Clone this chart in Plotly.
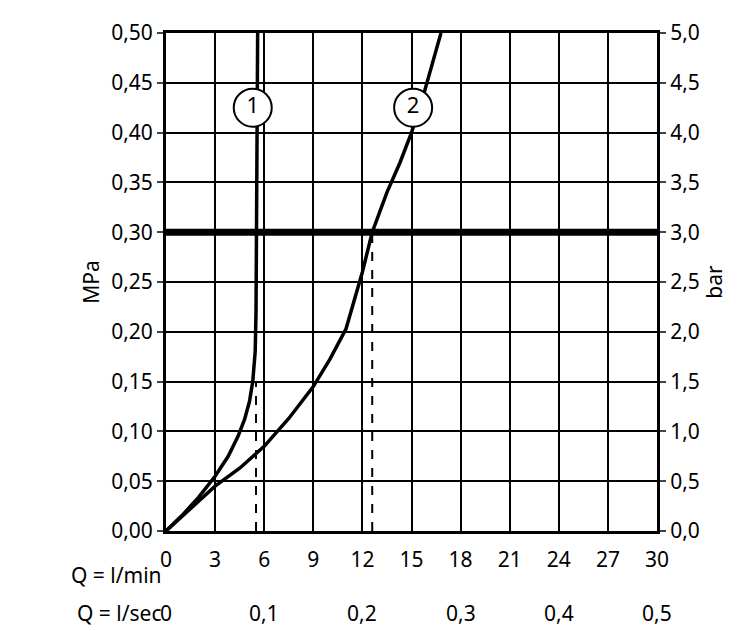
import plotly.graph_objects as go

# flow rate in l/min, pressure in MPa
curve1_q = [0, 1.0, 2.0, 3.0, 3.8, 4.4, 4.8, 5.1, 5.3, 5.4, 5.45, 5.5, 5.52, 5.55, 5.6]
curve1_p = [0, 0.016, 0.034, 0.055, 0.075, 0.095, 0.112, 0.13, 0.15, 0.165, 0.18, 0.22, 0.30, 0.40, 0.50]
curve2_q = [0, 1.5, 3.0, 4.5, 6.0, 7.5, 9.0, 10.0, 11.0, 12.0, 12.6, 13.5, 14.3, 15.0, 15.6, 16.2, 16.8]
curve2_p = [0, 0.022, 0.045, 0.063, 0.085, 0.113, 0.145, 0.172, 0.203, 0.26, 0.30, 0.34, 0.37, 0.40, 0.43, 0.465, 0.50]
dash_q = [5.5, 12.6]
dash_p = [0.15, 0.30]
labels = ["1", "2"]
label_q = [5.3, 15.1]
label_p = [0.425, 0.425]
lmin_ticks = [0, 3, 6, 9, 12, 15, 18, 21, 24, 27, 30]
lsec_pos = [0, 6, 12, 18, 24, 30]
lsec_text = ["0", "0,1", "0,2", "0,3", "0,4", "0,5"]
mpa_ticks = [i * 0.05 for i in range(11)]

font = "Noto Sans"
tf = dict(family=font, size=21, color="black")
fig = go.Figure()

for q, p in zip(dash_q, dash_p):
    fig.add_trace(go.Scatter(x=[q, q], y=[0, p], mode="lines",
                             line=dict(color="black", width=2, dash="dash"), showlegend=False))

fig.add_trace(go.Scatter(x=[0, 30], y=[0.30, 0.30], mode="lines",
                         line=dict(color="black", width=7), showlegend=False))
fig.add_trace(go.Scatter(x=curve1_q, y=curve1_p, mode="lines", line=dict(color="black", width=3.5), showlegend=False))
fig.add_trace(go.Scatter(x=curve2_q, y=curve2_p, mode="lines", line=dict(color="black", width=3.5), showlegend=False))
fig.add_trace(go.Scatter(x=label_q, y=label_p, mode="markers+text", text=labels,
                         marker=dict(size=38, color="white", line=dict(color="black", width=2)),
                         textfont=dict(family=font, size=22, color="black"), showlegend=False))
# invisible trace for the right axis
fig.add_trace(go.Scatter(x=[0], y=[0], yaxis="y2", mode="markers", marker=dict(opacity=0), showlegend=False, hoverinfo="skip"))

for q, t in zip(lsec_pos, lsec_text):
    fig.add_annotation(x=q, y=0, xref="x", yref="paper", yshift=-82, yanchor="middle", text=t,
                       showarrow=False, font=tf)
fig.add_annotation(x=-0.005, y=0, xref="paper", yref="paper", yshift=-44, xanchor="right", yanchor="middle",
                   text="Q = l/min", showarrow=False, font=tf)
fig.add_annotation(x=-0.005, y=0, xref="paper", yref="paper", yshift=-82, xanchor="right", yanchor="middle",
                   text="Q = l/sec", showarrow=False, font=tf)

fig.update_layout(
    width=750, height=631,
    margin=dict(l=158, r=101, t=25, b=108, autoexpand=False),
    plot_bgcolor="white", paper_bgcolor="white",
    font=tf,
    xaxis=dict(range=[0, 30], tickvals=lmin_ticks, ticktext=[str(v) for v in lmin_ticks], tickfont=tf,
               showgrid=True, gridcolor="black", gridwidth=2, showline=True, linecolor="black",
               linewidth=3, mirror=True, zeroline=False, ticks="", ticklabelstandoff=8, automargin=False),
    yaxis=dict(range=[0, 0.5], tickvals=mpa_ticks, ticktext=[f"{v:.2f}".replace(".", ",") for v in mpa_ticks],
               tickfont=tf, automargin=False,
               showgrid=True, gridcolor="black", gridwidth=2, showline=True, linecolor="black",
               linewidth=3, zeroline=False, ticks="outside", ticklen=6, tickwidth=2,
               title=dict(text="MPa", font=tf, standoff=6)),
    yaxis2=dict(range=[0, 5], overlaying="y", side="right", tickvals=[i * 0.5 for i in range(11)],
                ticktext=[f"{i * 0.5:.1f}".replace(".", ",") for i in range(11)], tickfont=tf, automargin=False,
                showgrid=False, showline=True, linecolor="black", linewidth=3, zeroline=False,
                ticks="outside", ticklen=6, tickwidth=2, title=dict(text="bar", font=tf, standoff=6)),
)

fig.write_html("out.html")
